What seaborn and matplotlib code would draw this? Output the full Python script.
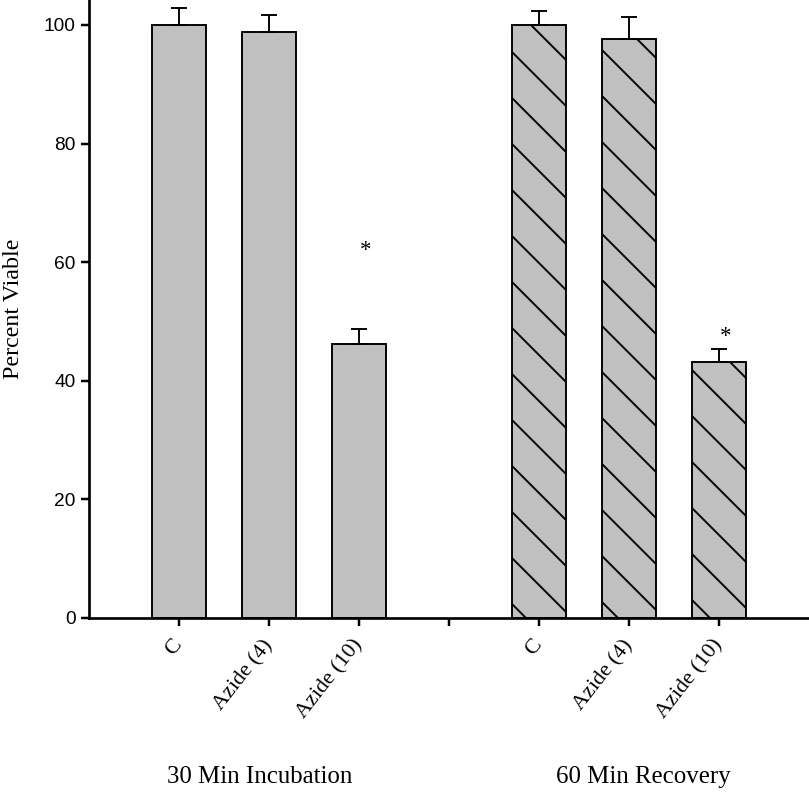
import numpy as np
import pandas as pd
import matplotlib
matplotlib.use("Agg")
import matplotlib.pyplot as plt
import matplotlib.transforms as mtransforms
import seaborn as sns

# ---- data ----
positions = [0, 1, 2, 4, 5, 6]
treatments = ["C", "Azide (4)", "Azide (10)", "C", "Azide (4)", "Azide (10)"]
groups = ["30 Min Incubation"] * 3 + ["60 Min Recovery"] * 3
viable = [100.0, 98.8, 46.2, 100.0, 97.6, 43.1]
sem = [2.9, 2.8, 2.6, 2.4, 3.7, 2.2]
star_pos = [2, 6]
star_y = [62.0, 47.4]
tick_pos = [0, 1, 2, 3, 4, 5, 6]
tick_labels = ["C", "Azide (4)", "Azide (10)", "", "C", "Azide (4)", "Azide (10)"]
group_names = ["30 Min Incubation", "60 Min Recovery"]
group_centers = [0.9, 5.16]

df = pd.DataFrame({"pos": positions, "viable": viable, "group": groups})

sns.set_style("ticks")
plt.rcParams["hatch.linewidth"] = 1.0
plt.rcParams["text.color"] = "black"
plt.rcParams["axes.labelcolor"] = "black"
plt.rcParams["xtick.color"] = "black"
plt.rcParams["ytick.color"] = "black"
plt.rcParams["xtick.labelcolor"] = "black"
plt.rcParams["ytick.labelcolor"] = "black"

DPI = 138
fig = plt.figure(figsize=(809 / DPI, 793 / DPI), dpi=DPI)
ax = fig.add_axes([89 / 809, 1 - 618 / 793, (809 - 89) / 809, 618 / 793])

sns.barplot(data=df, x="pos", y="viable", native_scale=True, width=0.6,
            color="#c0c0c0", saturation=1, errorbar=None,
            edgecolor="black", linewidth=1.0, ax=ax)

for p in ax.patches:
    cx = p.get_x() + p.get_width() / 2
    p.set_facecolor("#c0c0c0")
    if cx > 3:
        p.set_hatch("\\")

ax.errorbar(positions, viable, yerr=[np.zeros(len(sem)), sem], fmt="none",
            ecolor="black", elinewidth=1.0, capsize=4.2, capthick=1.0, zorder=3)

for sx, sy in zip(star_pos, star_y):
    ax.text(sx + 0.07, sy, "*", ha="center", va="center",
            fontsize=12, family="Liberation Serif", color="black")

ax.set_xlim(-1, 7.0)
ax.set_ylim(0, 104.2)
ax.set_yticks([0, 20, 40, 60, 80, 100])
ax.set_yticklabels(["0", "20", "40", "60", "80", "100"],
                   family="Liberation Sans", fontsize=10)
ax.set_xticks(tick_pos)
ax.set_xticklabels(tick_labels, rotation=52, ha="right", va="center",
                   rotation_mode="anchor", family="Liberation Serif", fontsize=11.5)
ax.tick_params(axis="both", direction="out", length=4, width=1.3, color="black")
ax.tick_params(axis="x", pad=8.5)
ax.tick_params(axis="y", pad=3)

ax.set_xlabel("")
ax.set_ylabel("Percent Viable", family="Liberation Serif", fontsize=12.5)
ax.yaxis.set_label_coords(-0.090, 0.50)

for side in ["top", "right"]:
    ax.spines[side].set_visible(False)
for side in ["left", "bottom"]:
    ax.spines[side].set_linewidth(1.4)
    ax.spines[side].set_color("black")

trans = mtransforms.blended_transform_factory(ax.transData, fig.transFigure)
for name, cx in zip(group_names, group_centers):
    ax.text(cx, 0.02, name, transform=trans, ha="center", va="center",
            family="Liberation Serif", fontsize=13, clip_on=False)

fig.savefig("out.png", dpi=DPI)
